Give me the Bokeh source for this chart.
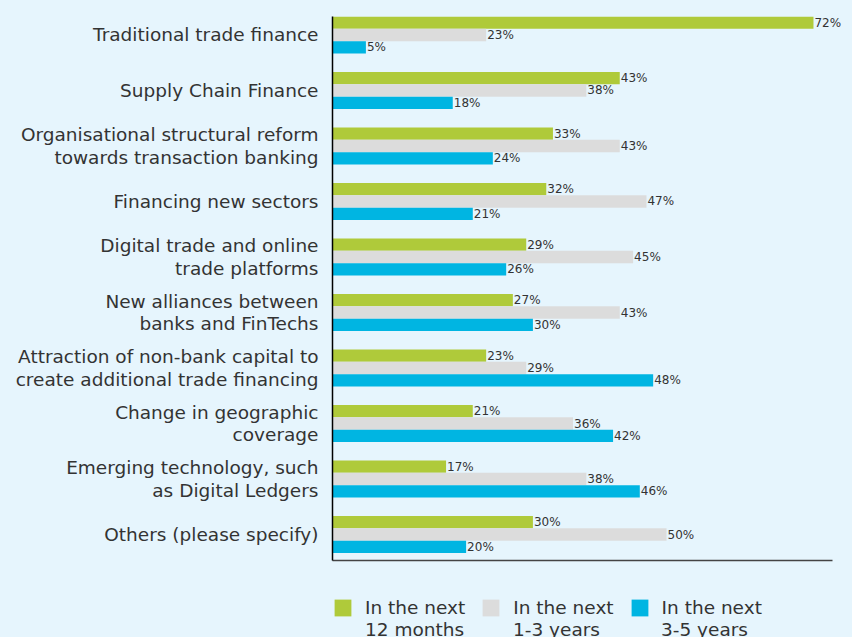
from bokeh.plotting import figure
from bokeh.layouts import column
from bokeh.models import ColumnDataSource, Range1d, FixedTicker, Legend, LegendItem
from bokeh.embed import file_html
from bokeh.resources import INLINE
from bokeh.core.properties import value

categories = [
    "Traditional trade finance",
    "Supply Chain Finance",
    "Organisational structural reform\ntowards transaction banking",
    "Financing new sectors",
    "Digital trade and online\ntrade platforms",
    "New alliances between\nbanks and FinTechs",
    "Attraction of non-bank capital to\ncreate additional trade financing",
    "Change in geographic\ncoverage",
    "Emerging technology, such\nas Digital Ledgers",
    "Others (please specify)",
]
next_12_months = [72, 43, 33, 32, 29, 27, 23, 21, 17, 30]
next_1_3_years = [23, 38, 43, 47, 45, 43, 29, 36, 38, 50]
next_3_5_years = [5, 18, 24, 21, 26, 30, 48, 42, 46, 20]
series_line1 = ["In the next", "In the next", "In the next"]
series_line2 = ["12 months", "1-3 years", "3-5 years"]
colors = ["#afca3a", "#dcdcdc", "#00b5e2"]

BG = "#e6f5fd"
FONT = "DejaVu Sans"
TXT = "#333333"

X_AXIS_END = 74.85

p = figure(width=852, height=576, output_backend="svg", toolbar_location=None,
           x_range=Range1d(0, 77.84), y_range=Range1d(9.468, -0.333),
           min_border_left=332, min_border_right=0, min_border_top=16, min_border_bottom=16)
p.background_fill_color = BG
p.border_fill_color = BG
p.outline_line_color = None
p.grid.visible = False

bar_h = 0.222
offsets = [-bar_h, 0.0, bar_h]
series = [next_12_months, next_1_3_years, next_3_5_years]
sources = []
for vals, off, col in zip(series, offsets, colors):
    ys = [i + off for i in range(len(categories))]
    src = ColumnDataSource(dict(y=ys, right=vals, lab=[f"{v}%" for v in vals]))
    sources.append(src)
    p.hbar(y="y", left=0, right="right", height=bar_h, source=src,
           fill_color=col, line_color=None)
    p.text(x="right", y="y", text="lab", source=src, x_offset=1,
           text_baseline="middle", text_align="left", text_font=value(FONT),
           text_font_size="12px", text_color=TXT)

# axes
p.yaxis.ticker = FixedTicker(ticks=list(range(len(categories))))
p.yaxis.major_label_overrides = {i: c for i, c in enumerate(categories)}
p.yaxis.major_tick_line_color = None
p.yaxis.minor_tick_line_color = None
p.yaxis.axis_line_color = "#000000"
p.yaxis.axis_line_width = 1.5
p.yaxis.major_label_text_font = FONT
p.yaxis.major_label_text_font_size = "18.5px"
p.yaxis.major_label_text_color = TXT
p.yaxis.major_label_text_line_height = 1.05
p.yaxis.major_label_standoff = 8

p.xaxis.bounds = (0, X_AXIS_END)
p.xaxis.ticker = FixedTicker(ticks=[])
p.xaxis.major_tick_line_color = None
p.xaxis.minor_tick_line_color = None
p.xaxis.major_label_standoff = 0
p.xaxis.axis_line_color = "#444444"
p.xaxis.axis_line_width = 1.5

# legend strip below the chart (its ranges keep the shared bars out of view)
p2 = figure(width=852, height=61, output_backend="svg", toolbar_location=None,
            x_range=Range1d(-100, -99), y_range=Range1d(-100, -99),
            x_axis_location=None, y_axis_location=None,
            min_border_left=332, min_border_right=0, min_border_top=0, min_border_bottom=0)
p2.background_fill_color = BG
p2.border_fill_color = BG
p2.outline_line_color = None
p2.grid.visible = False

swatches = []
blanks = []
for src, col in zip(sources, colors):
    swatches.append(p2.hbar(y="y", left=0, right="right", height=0.1, source=src,
                            fill_color=col, line_color=None))
    blanks.append(p2.hbar(y=[], left=[], right=[], height=0.1,
                          fill_color=col, line_color=None))

leg_style = dict(orientation="horizontal", background_fill_alpha=0, border_line_color=None,
                 glyph_width=21, glyph_height=21, spacing=15, padding=0, margin=0,
                 label_text_font=FONT, label_text_font_size="18.5px",
                 label_text_color=TXT, label_standoff=12, label_width=100,
                 label_text_line_height=1.0)
legend1 = Legend(items=[LegendItem(label=n, renderers=[r]) for n, r in zip(series_line1, swatches)],
                 location=(0, 19.5), **leg_style)
legend2 = Legend(items=[LegendItem(label=n, renderers=[r]) for n, r in zip(series_line2, blanks)],
                 location=(0, -2.5), **leg_style)
p2.add_layout(legend1, "center")
p2.add_layout(legend2, "center")

layout = column(p, p2, spacing=0, styles={"background-color": BG})
open("out.html", "w").write(file_html(layout, INLINE))
